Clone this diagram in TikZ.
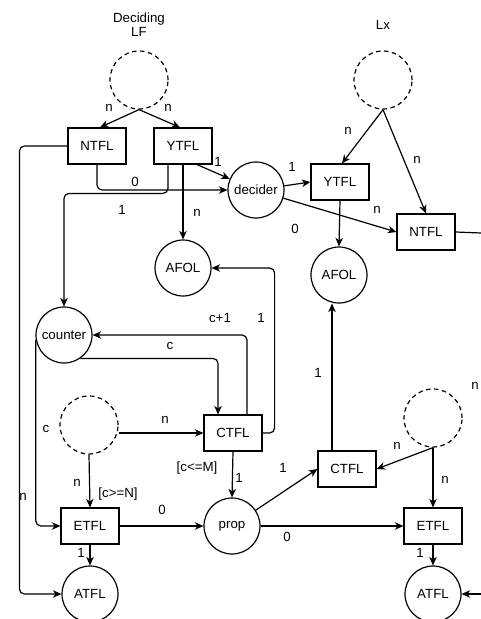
\documentclass[tikz,border=0pt]{standalone}
\usepackage{fontspec}
\setmainfont{Liberation Sans}
\usetikzlibrary{arrows.meta,calc}
\begin{document}
\begin{tikzpicture}[x=1pt,y=-1pt,
  every node/.style={font=\fontsize{13.3}{15}\selectfont},
  box/.style={draw,line width=1.2pt,minimum width=58pt,minimum height=36pt,inner sep=0pt},
  place/.style={draw,circle,line width=1.2pt,minimum size=56pt,inner sep=0pt},
  dplace/.style={draw,circle,dash pattern=on 4.5pt off 3.5pt,line width=1.2pt,minimum size=58pt,inner sep=0pt},
  lbl/.style={inner sep=1pt},
  arr/.style={draw,line width=1.2pt,-{Stealth[length=8.5pt,width=7.5pt,inset=2.5pt]}},
  ln/.style={draw,line width=1.2pt},
  rc/.style={rounded corners=5pt}]
\useasboundingbox (0,0) rectangle (481,619);

% nodes
\node[lbl,align=center] (tdl) at (139,25) {Deciding\\[-1pt]LF};
\node[dplace] (dl) at (139,80) {};
\node[lbl] (tlx) at (383,25) {Lx};
\node[dplace] (lx) at (383,80) {};
\node[box] (ntfl1) at (97,146) {NTFL};
\node[box] (ytfl1) at (183,146) {YTFL};
\node[place] (decider) at (256,190) {decider};
\node[box] (ytfl2) at (340,182) {YTFL};
\node[box] (ntfl2) at (426,232) {NTFL};
\node[place] (afol1) at (183,268) {AFOL};
\node[place] (afol2) at (339,275) {AFOL};
\node[place] (counter) at (64,335) {counter};
\node[dplace] (dc1) at (89,425) {};
\node[box] (ctfl1) at (233,433) {CTFL};
\node[box] (etfl1) at (90,526) {ETFL};
\node[place] (atfl1) at (90,594) {ATFL};
\node[place] (prop) at (232,526) {prop};
\node[box] (ctfl2) at (347,469) {CTFL};
\node[dplace] (dc2) at (433,418) {};
\node[box] (etfl2) at (433,526) {ETFL};
\node[place] (atfl2) at (433,594) {ATFL};
\coordinate (outN) at (481,233);
\coordinate (inA) at (481,594);

% connectors
\draw[arr] (dl.south) -- ([xshift=3pt]ntfl1.north);
\draw[arr] (dl.south) -- ([xshift=-3pt]ytfl1.north);
\draw[arr,rc] (ntfl1.west) -- ++(-48,0) |- (atfl1.west);
\draw[arr,rc] (ntfl1.south) |- (decider.west);
\draw[arr,rc] ([xshift=-15pt]ytfl1.south) |- ($(counter.north)+(0,-113)$) -- (counter.north);
\draw[arr] (ytfl1.south) -- (afol1.north);
\draw[arr] ([xshift=14pt]ytfl1.south) -- (decider.157);
\draw[arr] (decider) -- (ytfl2.west);
\draw[arr] (decider) -- (ntfl2.west);
\draw[arr] (lx.south) -- ([xshift=2pt]ytfl2.north);
\draw[arr] (lx.south) -- (ntfl2.north);
\draw[arr] (ytfl2.south) -- (afol2.north);
\draw[ln] (ntfl2.east) -- (outN);
\draw[arr,rc] (ctfl1.east) -- ++(12,0) |- (afol1.east);
\draw[arr,rc] ([xshift=14pt]ctfl1.north) |- (counter.east);
\draw[arr,rc] (counter.-55) -| ([xshift=-15pt]ctfl1.north);
\draw[arr,rc] (counter.190) |- (etfl1.west);
\draw[arr] (dc1.east |- ctfl1.west) -- (ctfl1.west);
\draw[arr] (dc1.south) -- (etfl1.north);
\draw[arr] (etfl1.south) -- (atfl1.north);
\draw[arr] (etfl1.east) -- (prop.west);
\draw[arr] (ctfl1.south) -- (prop.north);
\draw[arr] (prop) -- (ctfl2.west);
\draw[arr] ([xshift=-15pt]ctfl2.north) -- ([xshift=-15pt]ctfl2.north |- afol2.south);
\draw[arr] (prop.east) -- (etfl2.west);
\draw[arr] (dc2.south) -- (ctfl2.east);
\draw[arr] (dc2.south) -- (etfl2.north);
\draw[arr] (etfl2.south) -- (atfl2.north);
\draw[arr] (inA) -- (atfl2.east);

% labels
\node[lbl] (l1) at (109,108) {n};
\node[lbl] (l2) at (168,108) {n};
\node[lbl] (l3) at (135,182) {0};
\node[lbl] (l4) at (122,210) {1};
\node[lbl] (l5) at (197,213) {n};
\node[lbl] (l6) at (218,162) {1};
\node[lbl] (l7) at (292,167) {1};
\node[lbl] (l8) at (295,229) {0};
\node[lbl] (l9) at (348,131) {n};
\node[lbl] (l10) at (417,160) {n};
\node[lbl] (l11) at (377,210) {n};
\node[lbl] (l12) at (220,318) {c+1};
\node[lbl] (l13) at (261,318) {1};
\node[lbl,fill=white,inner sep=0.5pt] (l14) at (170,346) {c};
\node[lbl] (l15) at (46,429) {c};
\node[lbl] (l16) at (165,420) {n};
\node[lbl] (l17) at (77,483) {n};
\node[lbl] (l18) at (118,494) {[c>=N]};
\node[lbl] (l19) at (23,497) {n};
\node[lbl] (l20) at (81,553) {1};
\node[lbl] (l21) at (162,510) {0};
\node[lbl] (l22) at (197,468) {[c<=M]};
\node[lbl] (l23) at (239,478) {1};
\node[lbl] (l24) at (283,468) {1};
\node[lbl] (l25) at (318,373) {1};
\node[lbl] (l26) at (287,537) {0};
\node[lbl] (l27) at (397,446) {n};
\node[lbl] (l28) at (445,480) {n};
\node[lbl] (l29) at (420,553) {1};
\node[lbl] (l30) at (475,386) {n};
\end{tikzpicture}
\end{document}
